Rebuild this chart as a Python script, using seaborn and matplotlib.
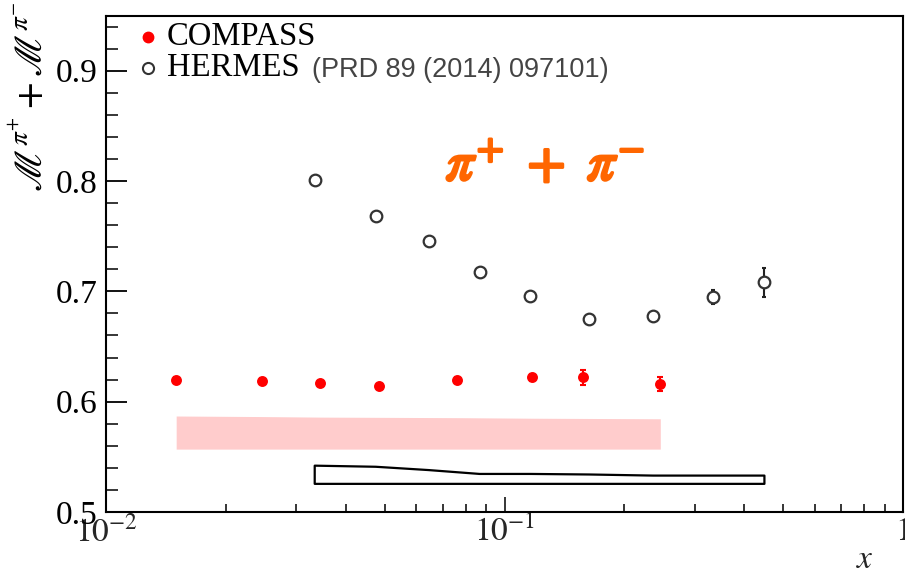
import numpy as np
import pandas as pd
import matplotlib
matplotlib.use("Agg")
import matplotlib.pyplot as plt
import matplotlib.patheffects as pe
from matplotlib.ticker import FixedLocator, LogLocator, NullFormatter, FuncFormatter
import seaborn as sns

# ---- data ----
compass_x = [0.0150, 0.0246, 0.0344, 0.0483, 0.0762, 0.117, 0.157, 0.246]
compass_y = [0.620, 0.619, 0.617, 0.614, 0.620, 0.622, 0.622, 0.616]
compass_err = [0.002, 0.002, 0.002, 0.002, 0.002, 0.003, 0.0065, 0.006]
compass_sys_lo = [0.557, 0.557, 0.557, 0.557, 0.557, 0.557, 0.557, 0.557]
compass_sys_hi = [0.587, 0.5865, 0.586, 0.5858, 0.5855, 0.585, 0.5848, 0.5845]

hermes_x = [0.0334, 0.0475, 0.0645, 0.0866, 0.1162, 0.163, 0.236, 0.334, 0.449]
hermes_y = [0.8005, 0.7684, 0.7459, 0.7171, 0.6955, 0.6745, 0.6772, 0.6948, 0.7081]
hermes_err = [0.002, 0.002, 0.002, 0.002, 0.002, 0.002, 0.002, 0.0063, 0.013]
hermes_sys_lo = [0.5255, 0.5255, 0.5255, 0.5255, 0.5255, 0.5255, 0.5255, 0.5255, 0.5255]
hermes_sys_hi = [0.542, 0.541, 0.538, 0.5345, 0.5345, 0.534, 0.533, 0.533, 0.533]

y_ticks = [0.5, 0.6, 0.7, 0.8, 0.9]
x_ticks = [0.01, 0.1, 1.0]
x_tick_labels = [r"$10^{-2}$", r"$10^{-1}$", r"$1$"]

sns.set_theme(style="ticks")
plt.rcParams["font.family"] = ["Liberation Serif", "DejaVu Serif"]
plt.rcParams["mathtext.fontset"] = "stix"

W, H = 905, 574
fig = plt.figure(figsize=(W / 100, H / 100), dpi=100)
ax = fig.add_axes([106 / W, 1 - 512 / H, (903 - 106) / W, (512 - 15.5) / H])

# systematic bands
ax.fill_between(compass_x, compass_sys_lo, compass_sys_hi, color="#ffcccc", lw=0, zorder=1)
ax.fill_between(hermes_x, hermes_sys_lo, hermes_sys_hi, facecolor="none",
                edgecolor="black", lw=1.6, zorder=2)

df_c = pd.DataFrame({"x": compass_x, "y": compass_y})
df_h = pd.DataFrame({"x": hermes_x, "y": hermes_y})

ax.errorbar(compass_x, compass_y, yerr=compass_err, fmt="none", ecolor="red",
            elinewidth=1.5, capsize=2.5, capthick=1.5, zorder=3)
ax.errorbar(hermes_x, hermes_y, yerr=hermes_err, fmt="none", ecolor="#222222",
            elinewidth=1.5, capsize=1.5, capthick=1.5, zorder=3)
sns.scatterplot(data=df_c, x="x", y="y", ax=ax, color="red", s=62,
                edgecolor="red", linewidth=0, zorder=4)
sns.scatterplot(data=df_h, x="x", y="y", ax=ax, facecolor="white", s=70,
                edgecolor="#333333", linewidth=1.6, zorder=4)

ax.set_xscale("log")
ax.set_xlim(0.01, 1.0)
ax.set_ylim(0.5, 0.95)
ax.set_xlabel("")
ax.set_ylabel("")

ax.yaxis.set_major_locator(FixedLocator(y_ticks))
ax.yaxis.set_minor_locator(FixedLocator(np.arange(0.5, 0.951, 0.02)))
ax.yaxis.set_major_formatter(FuncFormatter(lambda v, p: f"{v:.1f}"))
ax.xaxis.set_major_locator(FixedLocator(x_ticks))
ax.set_xticklabels(x_tick_labels)
ax.xaxis.set_minor_locator(LogLocator(base=10, subs=np.arange(2, 10)))
ax.xaxis.set_minor_formatter(NullFormatter())

ax.tick_params(axis="y", which="major", direction="in", length=15, width=1.3,
               labelsize=24, pad=6, colors="black")
ax.tick_params(axis="y", which="minor", direction="in", length=8.5, width=1.3)
ax.tick_params(axis="x", which="major", direction="in", length=11, width=1.3,
               labelsize=24, pad=3)
ax.tick_params(axis="x", which="minor", direction="in", length=6, width=1.3)
for s in ax.spines.values():
    s.set_linewidth(1.5)
    s.set_color("black")

# legend (manual)
ax.plot([0.0527], [0.957], "o", color="red", ms=7.5, mec="red", transform=ax.transAxes,
        clip_on=False, zorder=5)
ax.plot([0.0527], [0.894], "o", mfc="white", mec="#333333", mew=1.5, ms=8,
        transform=ax.transAxes, clip_on=False, zorder=5)
ax.text(0.076, 0.957, "COMPASS", transform=ax.transAxes, fontsize=23.5, va="center",
        ha="left", color="black")
ax.text(0.076, 0.894, "HERMES", transform=ax.transAxes, fontsize=23.5, va="center",
        ha="left", color="black")
fig.text(312 / W, 1 - 70 / H, "(PRD 89 (2014) 097101)", fontsize=19.5, va="center",
         ha="left", color="#444444", family=["Liberation Sans", "DejaVu Sans"])

# orange label
fig.text(545 / W, 1 - 166 / H, r"$\pi^{+}\ +\ \pi^{-}$", fontsize=40, color="#ff6600",
         ha="center", va="center",
         path_effects=[pe.withStroke(linewidth=2.0, foreground="#ff6600")])

# axis titles
fig.text(32 / W, 1 - 1 / H, r"$\mathscr{M}^{\pi^{+}} + \mathscr{M}^{\pi^{-}}$",
         rotation=90, fontsize=28, ha="center", va="top", color="black")
fig.text(865 / W, 1 - 560 / H, r"$x$", fontsize=24, ha="center", va="center")

fig.savefig("out.png", dpi=100)
